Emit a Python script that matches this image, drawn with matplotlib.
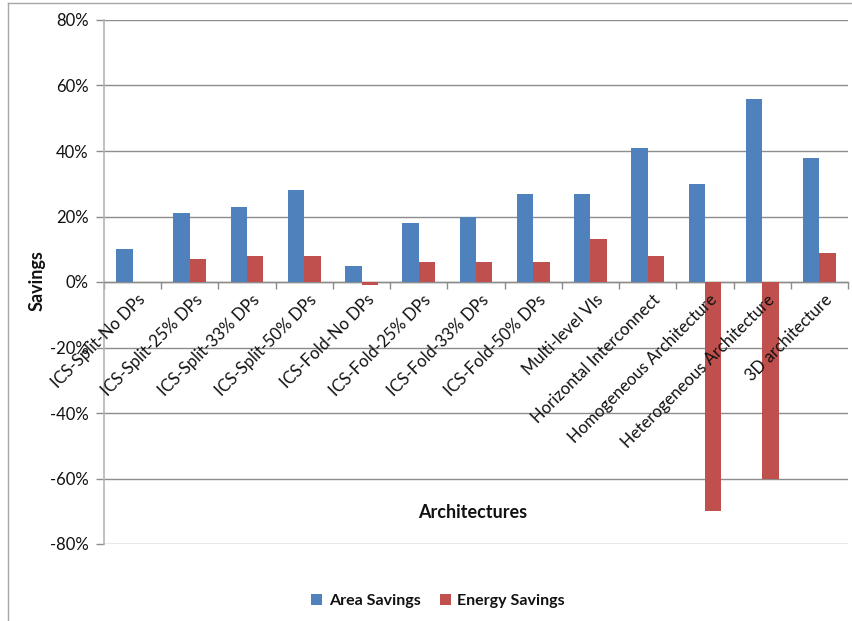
import matplotlib
matplotlib.use("Agg")
import matplotlib.pyplot as plt
import numpy as np
from matplotlib.ticker import FuncFormatter, FixedLocator
from matplotlib.lines import Line2D
from matplotlib.patches import Patch

plt.rcParams['font.family'] = ['Lato', 'DejaVu Sans']

categories = [
    "ICS-Split-No DPs", "ICS-Split-25% DPs", "ICS-Split-33% DPs", "ICS-Split-50% DPs",
    "ICS-Fold-No DPs", "ICS-Fold-25% DPs", "ICS-Fold-33% DPs", "ICS-Fold-50% DPs",
    "Multi-level VIs", "Horizontal Interconnect", "Homogeneous Architecture",
    "Heterogeneous Architecture", "3D architecture",
]
area_savings = [10, 21, 23, 28, 5, 18, 20, 27, 27, 41, 30, 56, 38]
energy_savings = [0, 7, 8, 8, -1, 6, 6, 6, 13, 8, -70, -60, 9]
y_ticks = [-80, -60, -40, -20, 0, 20, 40, 60, 80]

blue = "#4F81BD"
red = "#C0504D"
grid_c = "#8C8C8C"
txt_c = "#111111"

W, H = 852, 621
fig = plt.figure(figsize=(W / 100, H / 100), dpi=100)
ax = fig.add_axes([104 / W, 1 - 544 / H, 744 / W, 524 / H])

n = len(categories)
x = np.arange(n)
bw = 1 / 3.5
ax.bar(x - bw / 2, area_savings, bw, color=blue, linewidth=0, zorder=3)
ax.bar(x + bw / 2, energy_savings, bw, color=red, linewidth=0, zorder=3)

ax.set_xlim(-0.5, n - 0.5)
ax.set_ylim(-80, 80)
ax.set_yticks(y_ticks)
ax.yaxis.set_major_formatter(FuncFormatter(lambda v, p: f"{int(v)}%"))
ax.grid(axis="y", color=grid_c, linewidth=1.0, zorder=0)
ax.tick_params(axis="y", length=6, width=1, color=grid_c, labelsize=12, pad=5, labelcolor=txt_c)

for s in ["top", "right"]:
    ax.spines[s].set_visible(False)
ax.spines["left"].set_color("#B4B4B4")
ax.spines["left"].set_linewidth(1.2)
ax.spines["bottom"].set_position(("data", 0))
ax.spines["bottom"].set_color(grid_c)
ax.spines["bottom"].set_linewidth(1.0)

ax.xaxis.set_major_locator(FixedLocator(np.arange(n + 1) - 0.5))
ax.tick_params(axis="x", length=5, width=1, color=grid_c, direction="out", labelbottom=False)

for i, lab in enumerate(categories):
    ax.annotate(lab, xy=(i, 0), xytext=(3, -7), textcoords="offset points",
                rotation=45, ha="right", va="top", rotation_mode="anchor",
                fontsize=12, color=txt_c, zorder=5)

fig.text(37 / W, 1 - 281 / H, "Savings", rotation=90, ha="center", va="center",
         fontsize=13, fontweight="bold", color=txt_c)
fig.text(473 / W, 1 - 512 / H, "Architectures", ha="center", va="center",
         fontsize=13, fontweight="bold", color=txt_c)

handles = [Patch(facecolor=blue, label="Area Savings"), Patch(facecolor=red, label="Energy Savings")]
fig.legend(handles=handles, loc="center", bbox_to_anchor=(438 / W, 1 - 601 / H), ncol=2,
           frameon=False, prop={"weight": "bold", "size": 11.5}, handlelength=0.7,
           handleheight=0.7, handletextpad=0.4, columnspacing=1.2,
           labelcolor=txt_c)

# chart frame
fig.add_artist(Line2D([8 / W, 8 / W], [0, 1 - 3 / H], color="#A6A6A6", linewidth=1.0, transform=fig.transFigure))
fig.add_artist(Line2D([8 / W, 1], [1 - 3 / H, 1 - 3 / H], color="#A6A6A6", linewidth=1.0, transform=fig.transFigure))

fig.savefig("out.png", dpi=100, facecolor="white")
